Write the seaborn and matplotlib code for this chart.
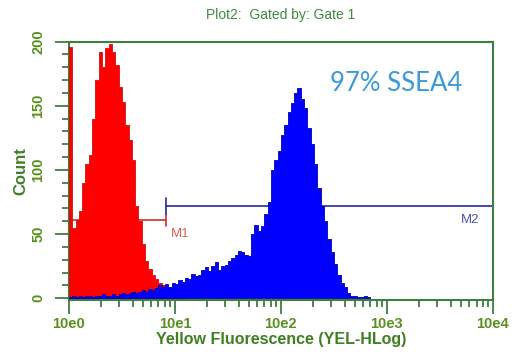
import numpy as np
import pandas as pd
import matplotlib
matplotlib.use("Agg")
import matplotlib.pyplot as plt
import seaborn as sns

# Histogram channels: 32 per decade, starting at 10e0
red_counts = [196, 55, 61, 68, 90, 105, 112, 140, 170, 192, 180, 195, 198, 192, 182,
              165, 153, 135, 123, 108, 72, 60, 42, 29, 23, 18, 15, 12, 10, 8, 6, 4, 3, 2, 1]
blue_counts = [1, 2, 1, 2, 1, 2, 2, 1, 2, 2, 3, 2, 2, 3, 2, 3, 4, 3, 4, 5, 4, 5, 6, 5,
               7, 6, 8, 10, 9, 11, 9, 12, 11, 14, 13, 16, 15, 19, 17, 18, 22, 24, 21, 25,
               28, 22, 25, 26, 29, 31, 34, 37, 36, 34, 33, 50, 57, 52, 56, 66, 75, 100,
               108, 115, 127, 135, 145, 152, 160, 164, 155, 148, 133, 120, 105, 86, 72,
               60, 46, 36, 27, 18, 12, 9, 4, 2, 2, 1, 1, 2, 1]
channels_per_decade = 32

x_ticks = [0, 1, 2, 3, 4]
x_labels = ["10e0", "10e1", "10e2", "10e3", "10e4"]
y_ticks = [0, 50, 100, 150, 200]

gate_split = 0.915      # log10 position where M1 ends and M2 begins
m1_level = 61
m2_level = 72

green = "#3e7e3e"
label_green = "#3f7f22"
tick_green = "#5a9020"

sns.set_style("white")
plt.rcParams["font.family"] = ["Liberation Sans", "DejaVu Sans"]

fig = plt.figure(figsize=(5.14, 3.56), dpi=100)
ax = fig.add_axes([0.134, 0.157, 0.825, 0.726])

def draw_hist(counts, color, edge):
    width = 1 / channels_per_decade
    n = len(counts)
    df = pd.DataFrame({"channel": (np.arange(n) + 0.5) * width, "count": counts})
    sns.histplot(data=df, x="channel", weights="count", binwidth=width, binrange=(0, n * width),
                 element="step", fill=True, color=color, alpha=1, edgecolor=edge,
                 linewidth=0.6, ax=ax, zorder=3)

# gate markers (behind the histograms)
ax.plot([0, gate_split], [m1_level, m1_level], color="#c83030", lw=1.2, zorder=1)
ax.plot([gate_split, gate_split], [m1_level - 5, m1_level + 5], color="#c83030", lw=1.2, zorder=1)
ax.plot([gate_split, 4], [m2_level, m2_level], color="#2828a0", lw=1.2, zorder=1)
ax.plot([gate_split, gate_split], [m2_level - 6, m2_level + 6], color="#2828a0", lw=1.2, zorder=1)

draw_hist(red_counts, "#ff0000", "#d01010")
draw_hist(blue_counts, "#0000ff", "#0000b0")

ax.text(gate_split + 0.05, m1_level - 11, "M1", color="#e06050", fontsize=9.5, va="center", zorder=5)
ax.text(3.87, m2_level - 11, "M2", color="#5050b0", fontsize=9.5, ha="right", va="center", zorder=5)
ax.text(3.09, 167, "97% SSEA4", color="#3c9ad8", fontsize=18.5, family=["Lato", "DejaVu Sans"],
        ha="center", va="center")

ax.set_xlim(0, 4)
ax.set_ylim(-1.5, 200)
ax.set_xticks(x_ticks)
ax.set_xticklabels(x_labels)
ax.set_xticks([k + np.log10(m) for k in range(4) for m in range(2, 10)], minor=True)
ax.set_yticks(y_ticks)
ax.set_yticks(np.arange(0, 201, 10), minor=True)

ax.tick_params(axis="both", which="both", bottom=True, left=True, top=False, right=False)
ax.tick_params(axis="both", which="major", direction="out", length=10, width=1.3,
               color=green, labelcolor=tick_green, labelsize=10.5)
ax.tick_params(axis="both", which="minor", direction="out", length=5, width=1.3, color=green)
ax.tick_params(axis="x", pad=2)
ax.tick_params(axis="y", pad=7)
for lab in ax.get_xticklabels():
    lab.set_fontweight("bold")
for lab in ax.get_yticklabels():
    lab.set_fontweight("bold")
    lab.set_rotation(90)
    lab.set_va("center")

for sp in ax.spines.values():
    sp.set_color(green)
    sp.set_linewidth(1.5)

ax.set_xlabel("Yellow Fluorescence (YEL-HLog)", color=label_green, fontsize=11.5,
              fontweight="bold", labelpad=1)
ax.set_ylabel("Count", color=label_green, fontsize=12, fontweight="bold", labelpad=2)
ax.set_title("Plot2:  Gated by: Gate 1", color="#3d8b3d", fontsize=10, pad=16)

fig.savefig("out.png", dpi=100)
